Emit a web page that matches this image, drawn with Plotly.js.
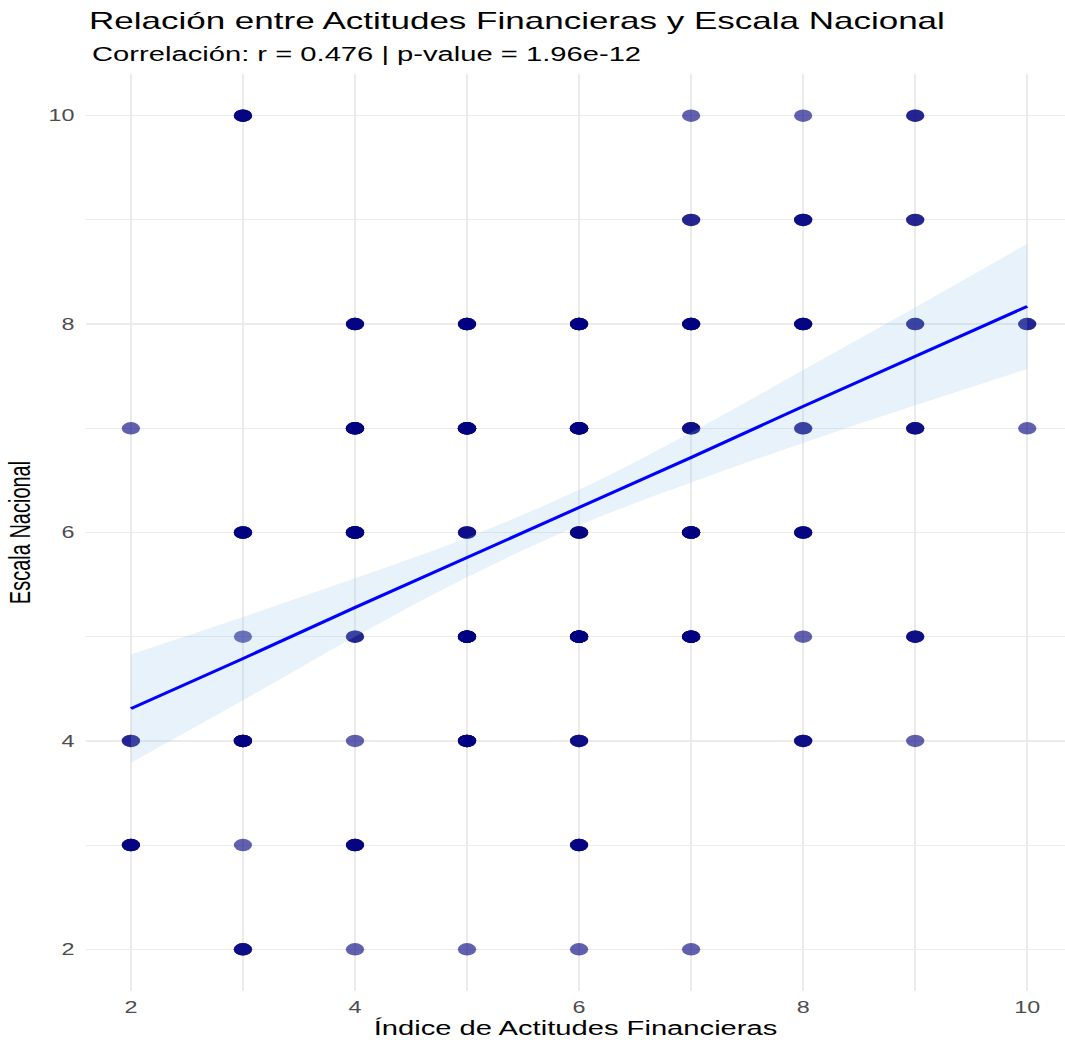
<!DOCTYPE html>
<html><head><meta charset="utf-8">
<script src="https://cdn.plot.ly/plotly-3.0.1.min.js"></script>
<style>
html,body{margin:0;padding:0;background:#fff;overflow:hidden}
#wrap{width:1065px;height:1042px;overflow:hidden}
#chart{width:730px;height:1042px;transform:scaleX(1.4589);transform-origin:0 0}
</style></head><body><div id="wrap"><div id="chart"></div></div>
<script>
// Observed (x, y) combinations and how many respondents share each one
const indiceActitudes = [2,2,2, 3,3,3,3,3,3, 4,4,4,4,4,4,4, 5,5,5,5,5,5, 6,6,6,6,6,6,6, 7,7,7,7,7,7,7, 8,8,8,8,8,8,8, 9,9,9,9,9,9, 10,10];
const escalaNacional  = [7,4,3, 10,6,5,4,3,2, 8,7,6,5,4,3,2, 8,7,6,5,4,2, 8,7,6,5,4,3,2, 10,9,8,7,6,5,2, 10,9,8,7,6,5,4, 10,9,8,7,5,4, 8,7];
const frecuencia      = [1,2,4, 4,5,1,6,1,3, 4,6,8,2,1,4,1, 5,8,3,10,6,1, 6,8,4,12,3,4,1, 1,2,5,3,7,8,1, 1,3,4,2,4,1,3, 2,2,2,3,3,1, 2,1];

// Linear fit and its 95% confidence band
const ajusteX    = [2, 3, 4, 5, 6, 7, 8, 9, 10];
const ajusteY    = [4.31, 4.79, 5.28, 5.76, 6.24, 6.72, 7.21, 7.69, 8.17];
const icInferior = [3.79, 4.39, 5.00, 5.57, 6.07, 6.48, 6.86, 7.22, 7.57];
const icSuperior = [4.83, 5.19, 5.56, 5.95, 6.41, 6.96, 7.56, 8.16, 8.77];

const ticksX = [2, 4, 6, 8, 10];
const ticksY = [2, 4, 6, 8, 10];

const tituloTexto = "Relación entre Actitudes Financieras y Escala Nacional";
const subtituloTexto = "Correlación: r = 0.476 | p-value = 1.96e-12";
const tituloX = "Índice de Actitudes Financieras";
const tituloY = "Escala Nacional";

// expand each combination into individual respondents
const px = [], py = [];
indiceActitudes.forEach((x, i) => {
  for (let k = 0; k < frecuencia[i]; k++) { px.push(x); py.push(escalaNacional[i]); }
});

const FONT = "Liberation Sans, Arial, sans-serif";

const traces = [
  {
    type: "scatter", mode: "markers", x: px, y: py,
    marker: {color: "#000080", size: 12.5, opacity: 0.62, line: {width: 0}},
    hoverinfo: "skip", showlegend: false
  },
  {
    type: "scatter", mode: "lines", x: ajusteX, y: icInferior,
    line: {width: 0, color: "rgba(0,0,0,0)", shape: "spline"},
    hoverinfo: "skip", showlegend: false
  },
  {
    type: "scatter", mode: "lines", x: ajusteX, y: icSuperior,
    fill: "tonexty", fillcolor: "rgba(135,190,230,0.2)",
    line: {width: 0, color: "rgba(0,0,0,0)", shape: "spline"},
    hoverinfo: "skip", showlegend: false
  },
  {
    type: "scatter", mode: "lines", x: ajusteX, y: ajusteY,
    line: {width: 2.8, color: "#0000FF"},
    hoverinfo: "skip", showlegend: false
  }
];

const gridColor = "#EBEBEB";
const layout = {
  width: 730, height: 1042,
  margin: {l: 59, r: 0, t: 74, b: 51},
  paper_bgcolor: "#FFFFFF", plot_bgcolor: "#FFFFFF",
  font: {family: FONT, color: "#000000"},
  showlegend: false,
  title: {
    text: tituloTexto, font: {family: FONT, size: 24, color: "#000000"},
    xref: "container", x: 61 / 730, xanchor: "left",
    yref: "container", y: 1 - 21 / 1042, yanchor: "middle"
  },
  annotations: [{
    text: subtituloTexto, showarrow: false,
    font: {family: FONT, size: 20, color: "#000000"},
    xref: "paper", x: (61 - 59) / 671, xanchor: "left",
    yref: "paper", y: (991 - 54) / 917, yanchor: "middle"
  }],
  xaxis: {
    range: [1.6, 10.337], tickvals: ticksX, ticktext: ticksX.map(String),
    showgrid: true, gridcolor: gridColor, gridwidth: 1.6,
    minor: {tickvals: [3, 5, 7, 9], showgrid: true, gridcolor: gridColor, gridwidth: 1.1},
    zeroline: false, showline: false, ticks: "", ticklabelstandoff: 5,
    tickfont: {family: FONT, size: 16, color: "#4D4D4D"},
    title: {text: tituloX, font: {family: FONT, size: 20, color: "#000000"}, standoff: 6}
  },
  yaxis: {
    range: [1.6, 10.4], tickvals: ticksY, ticktext: ticksY.map(String),
    showgrid: true, gridcolor: gridColor, gridwidth: 1.6,
    minor: {tickvals: [3, 5, 7, 9], showgrid: true, gridcolor: gridColor, gridwidth: 1.1},
    zeroline: false, showline: false, ticks: "", ticklabelstandoff: 7,
    tickfont: {family: FONT, size: 16, color: "#4D4D4D"},
    title: {text: tituloY, font: {family: FONT, size: 20, color: "#000000"}, standoff: 6}
  }
};

Plotly.newPlot("chart", traces, layout, {staticPlot: true, displayModeBar: false});
</script>
</body></html>
